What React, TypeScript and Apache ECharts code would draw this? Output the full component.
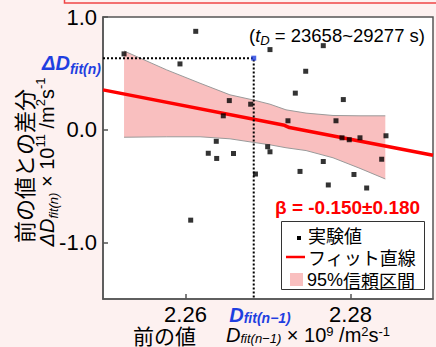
import React, { useEffect, useRef } from "react";
import * as echarts from "echarts";

// ---- data ----
const xTickValues = [2.26, 2.28];
const yTickValues = [-1.0, 0.0, 1.0];
const xMin = 2.25;
const xMax = 2.29;
const yMin = -1.5;
const yMax = 1.0;

const measX = [
  2.25255, 2.25933, 2.26124, 2.26373, 2.26276, 2.26378, 2.26458, 2.26531, 2.26582, 2.2679,
  2.26848, 2.26996, 2.27024, 2.27024, 2.26063, 2.27242, 2.27331, 2.27457, 2.27388, 2.2767,
  2.2767, 2.27731, 2.27824, 2.27913, 2.27897, 2.27985, 2.28042, 2.28115, 2.28196, 2.28378,
  2.2843,
];
const measY = [
  0.673, 0.584, 0.873, -0.102, -0.208, -0.254, 0.124, 0.259, -0.21, 0.227,
  -0.392, -0.15, -0.195, 0.711, -0.801, 0.08, 0.325, 0.519, -0.369, 0.746,
  -0.281, -0.489, 0.08, 0.268, -0.071, -0.088, -0.396, -0.071, -0.516, -0.261,
  -0.053,
];

const fitX = [2.25, 2.272, 2.2726, 2.29];
const fitY = [0.354, 0.04, 0.02, -0.226];

const bandX = [2.25255, 2.25772, 2.26176, 2.26539, 2.26818, 2.27024, 2.27218, 2.27461, 2.27788, 2.28115, 2.28422];
const bandUpper = [0.699, 0.531, 0.413, 0.31, 0.265, 0.227, 0.177, 0.148, 0.127, 0.124, 0.124];
const bandLower = [-0.066, -0.062, -0.062, -0.08, -0.111, -0.133, -0.159, -0.184, -0.248, -0.342, -0.436];

const refX = 2.26827;
const refY = 0.635;

const betaText = "β = -0.150±0.180";
const tdText = " = 23658~29277 s)";

// ---- styles ----
const LATIN = '"Liberation Sans", Arial, "Noto Sans CJK JP", sans-serif';
const CJK = '"Noto Sans CJK JP", "Liberation Sans", sans-serif';
const BLUE = "#1f3fe0";
const RED = "#ff0000";
const PINK = "#f9bfbf";
const AXIS = "#555555";
const BG = "#fdf1f0";

function richSet(size: number, sub: number, color: string, bold: boolean, lh: number, slh: number) {
  const w = bold ? "bold" : "normal";
  return {
    n: { fontSize: size, fontFamily: LATIN, fill: color, fontWeight: w, lineHeight: lh, verticalAlign: "middle" },
    i: { fontSize: size, fontFamily: LATIN, fill: color, fontWeight: w, fontStyle: "italic", lineHeight: lh, verticalAlign: "middle" },
    s: { fontSize: sub, fontFamily: LATIN, fill: color, fontWeight: w, fontStyle: "italic", lineHeight: slh, verticalAlign: "bottom" },
    p: { fontSize: sub, fontFamily: LATIN, fill: color, fontWeight: w, lineHeight: slh, verticalAlign: "top" },
  };
}

export default function App() {
  const ref = useRef<HTMLDivElement>(null);
  useEffect(() => {
    if (!ref.current) return;
    const chart = echarts.init(ref.current, null, { renderer: "svg" });
    const scatterData = measX.map((x, i) => [x, measY[i]]);
    const fitData = fitX.map((x, i) => [x, fitY[i]]);
    const bandData = bandX.map((x, i) => [x, bandUpper[i], bandLower[i]]);

    chart.setOption({
      animation: false,
      backgroundColor: BG,
      grid: {
        left: 103,
        top: 17,
        width: 330,
        height: 282,
        show: true,
        backgroundColor: "#ffffff",
        borderColor: AXIS,
        borderWidth: 1.5,
      },
      xAxis: {
        type: "value",
        min: xMin,
        max: xMax,
        splitLine: { show: false },
        axisLine: { show: true, onZero: false, lineStyle: { color: AXIS, width: 1.5 } },
        axisTick: { show: true, inside: true, length: 5, customValues: xTickValues, lineStyle: { color: AXIS, width: 1.5 } },
        axisLabel: {
          customValues: xTickValues,
          formatter: (v: number) => v.toFixed(2),
          fontSize: 22,
          lineHeight: 20,
          fontFamily: LATIN,
          color: "#000",
          margin: 5,
        },
      },
      yAxis: {
        type: "value",
        min: yMin,
        max: yMax,
        splitLine: { show: false },
        axisLine: { show: true, onZero: false, lineStyle: { color: AXIS, width: 1.5 } },
        axisTick: { show: true, inside: true, length: 5, customValues: yTickValues, lineStyle: { color: AXIS, width: 1.5 } },
        axisLabel: {
          customValues: yTickValues,
          formatter: (v: number) => v.toFixed(1),
          fontSize: 22,
          fontFamily: LATIN,
          color: "#000",
          margin: 6,
        },
      },
      series: [
        {
          type: "custom",
          name: "95%信頼区間",
          data: bandData,
          z: 1,
          silent: true,
          renderItem: (params: any, api: any) => {
            if (params.dataIndex !== 0) return null;
            const up = bandX.map((x, i) => api.coord([x, bandUpper[i]]));
            const lo = bandX.map((x, i) => api.coord([x, bandLower[i]]));
            return {
              type: "group",
              children: [
                { type: "polygon", shape: { points: [...up, ...lo.slice().reverse()] }, style: { fill: PINK, stroke: "none" } },
                { type: "polyline", shape: { points: up }, style: { fill: "none", stroke: "#9a9a9a", lineWidth: 1 } },
                { type: "polyline", shape: { points: lo }, style: { fill: "none", stroke: "#9a9a9a", lineWidth: 1 } },
              ],
            };
          },
        },
        {
          type: "line",
          name: "フィット直線",
          data: fitData,
          showSymbol: false,
          z: 3,
          lineStyle: { color: RED, width: 3.5 },
          itemStyle: { color: RED },
        },
        {
          type: "line",
          name: "guide",
          data: [
            [xMin, refY],
            [refX, refY],
            [refX, yMin],
          ],
          showSymbol: false,
          z: 4,
          lineStyle: { color: "#000", width: 2, type: [2, 2] },
        },
        {
          type: "scatter",
          name: "実験値",
          data: scatterData,
          symbol: "rect",
          symbolSize: 5,
          z: 5,
          itemStyle: { color: "#000" },
        },
        {
          type: "scatter",
          name: "ref",
          data: [[refX, refY]],
          symbol: "rect",
          symbolSize: 5,
          z: 6,
          itemStyle: { color: BLUE },
        },
      ],
      graphic: [
        { type: "rect", silent: true, shape: { x: 64.5, y: -20, width: 400, height: 23 }, style: { fill: "none", stroke: "#ef4545", lineWidth: 1.5 } },
        {
          type: "text",
          x: 101,
          y: 63,
          style: {
            text: "{i|ΔD}{s|fit(n)}",
            align: "right",
            verticalAlign: "middle",
            rich: richSet(20, 14, BLUE, true, 26, 14),
          },
        },
        {
          type: "text",
          x: 260,
          y: 315,
          style: {
            text: "{i|D}{s|fit(n−1)}",
            align: "center",
            verticalAlign: "middle",
            rich: richSet(20, 14, BLUE, true, 20, 13),
          },
        },
        {
          type: "text",
          x: 133,
          y: 335,
          style: { text: "前の値", fontSize: 21, lineHeight: 20, fontFamily: CJK, fill: "#000", verticalAlign: "middle" },
        },
        {
          type: "text",
          x: 226,
          y: 335,
          style: {
            text: "{i|D}{s|fit(n−1)}{n| × 10}{p|9}{n| /m}{p|2}{n|s}{p|-1}",
            verticalAlign: "middle",
            rich: richSet(20, 13, "#000", false, 20, 11),
          },
        },
        {
          type: "text",
          x: 23,
          y: 166,
          rotation: Math.PI / 2,
          style: { text: "前の値との差分", fontSize: 22, fontFamily: CJK, fill: "#000", align: "center", verticalAlign: "middle" },
        },
        {
          type: "text",
          x: 47,
          y: 162,
          rotation: Math.PI / 2,
          style: {
            text: "{i|ΔD}{s|fit(n)}{n| × 10}{p|11}{n| /m}{p|2}{n|s}{p|-1}",
            align: "center",
            verticalAlign: "middle",
            rich: richSet(20, 13, "#000", false, 26, 13),
          },
        },
        {
          type: "text",
          x: 425,
          y: 35,
          style: {
            text: "{n|(}{i|t}{s|D}{n|" + tdText + "}",
            align: "right",
            verticalAlign: "middle",
            rich: richSet(18.5, 13, "#000", false, 24, 13),
          },
        },
        {
          type: "text",
          x: 275,
          y: 207,
          style: { text: betaText, fontSize: 19, fontWeight: "bold", fontFamily: LATIN, fill: RED, verticalAlign: "middle" },
        },
        // legend
        { type: "rect", shape: { x: 281.5, y: 221.5, width: 143, height: 68 }, style: { fill: "#fff", stroke: "#333", lineWidth: 1 }, z: 10 },
        { type: "rect", shape: { x: 297, y: 236, width: 4, height: 4 }, style: { fill: "#000" }, z: 11 },
        { type: "line", shape: { x1: 286, y1: 257, x2: 305, y2: 257 }, style: { stroke: RED, lineWidth: 2.5 }, z: 11 },
        { type: "rect", shape: { x: 290, y: 273, width: 13, height: 13 }, style: { fill: PINK }, z: 11 },
        { type: "text", x: 308, y: 235, z: 11, style: { text: "実験値", fontSize: 18, lineHeight: 18, fontFamily: CJK, fill: "#000", verticalAlign: "middle" } },
        { type: "text", x: 308, y: 257, z: 11, style: { text: "フィット直線", fontSize: 18, lineHeight: 18, fontFamily: CJK, fill: "#000", verticalAlign: "middle" } },
        { type: "text", x: 307, y: 280, z: 11, style: { text: "{n|95%}{c|信頼区間}", verticalAlign: "middle", rich: { n: { fontSize: 18, lineHeight: 18, fontFamily: LATIN, fill: "#000" }, c: { fontSize: 18, lineHeight: 18, fontFamily: CJK, fill: "#000" } } } },
      ],
    });
    return () => chart.dispose();
  }, []);
  return <div ref={ref} style={{ position: "absolute", left: 0, top: 0, width: 436, height: 347 }} />;
}
